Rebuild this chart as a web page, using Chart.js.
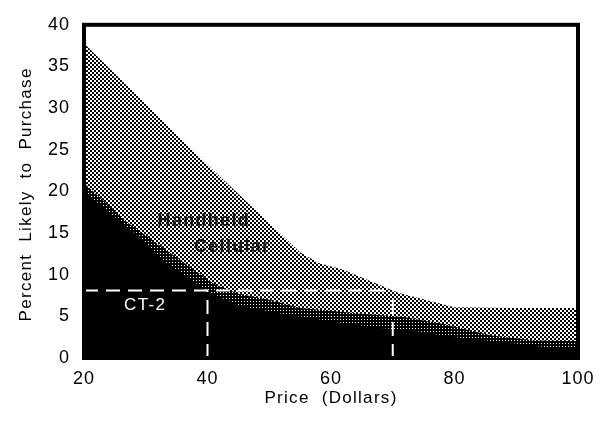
<!DOCTYPE html>
<html>
<head>
<meta charset="utf-8">
<script src="https://cdn.jsdelivr.net/npm/chart.js@4.4.1/dist/chart.umd.min.js"></script>
<style>
  html, body { margin: 0; padding: 0; background: #fff; }
  #wrap { width: 608px; height: 423px; }
</style>
</head>
<body>
<div id="wrap"><canvas id="purchase_chart"></canvas></div>
<script>
// data (price in dollars, percent likely to purchase)
const handheldPrices = [20, 40, 55, 58, 62, 71, 80, 90, 100];
const handheldTop    = [37.8, 23.2, 12.7, 11.4, 10.6, 7.8, 6.1, 6.0, 6.0];

const midPrices = [20, 27, 41, 45, 50, 55, 65, 72, 78, 86, 93, 100];
const midTop    = [21.0, 16.3, 8.9, 7.7, 7.0, 6.0, 5.3, 4.9, 4.1, 2.7, 2.1, 2.0];

const ct2Prices = [20, 28, 33, 40, 45, 52, 62, 68, 74, 80, 88, 95, 100];
const ct2Top    = [20.0, 15.1, 11.6, 8.0, 6.3, 5.3, 4.2, 3.6, 3.2, 2.5, 1.9, 1.3, 1.3];

// dashed guide: CT-2 level and the two prices it marks
const guideLevel = 8.1;
const guidePrices = [40, 70];

const xTickValues = [20, 40, 60, 80, 100];
const yTickValues = [0, 5, 10, 15, 20, 25, 30, 35, 40];

const xTitle = "Price  (Dollars)";
const yTitle = "Percent  Likely  to  Purchase";
const FONT = '"Liberation Sans", Arial, Helvetica, sans-serif';

const pts = (xs, ys) => xs.map((v, i) => ({ x: v, y: ys[i] }));

// halftone-like fills
function makePattern(size, isBlack) {
  const c = document.createElement("canvas");
  c.width = size; c.height = size;
  const g = c.getContext("2d");
  g.fillStyle = "#fff";
  g.fillRect(0, 0, size, size);
  g.fillStyle = "#000";
  for (let i = 0; i < size; i++) {
    for (let j = 0; j < size; j++) {
      if (isBlack(i, j)) g.fillRect(i, j, 1, 1);
    }
  }
  return g.createPattern(c, "repeat");
}
const checker = makePattern(4, (i, j) => ((i >> 1) + (j >> 1)) % 2 === 0);
const dense = makePattern(3, (i, j) => !(i === 1 && j === 1));

const areaDefaults = { borderWidth: 0, pointRadius: 0, tension: 0, fill: "origin" };
const guideDefaults = {
  borderColor: "#fff", borderWidth: 2, borderDash: [14, 8],
  pointRadius: 0, fill: false, tension: 0
};

const overlay = {
  id: "overlay",
  beforeDraw(chart) {
    chart.ctx.letterSpacing = "1px";
  },
  afterDatasetsDraw(chart) {
    const { ctx, chartArea: a, scales: { x, y } } = chart;
    ctx.save();
    ctx.textAlign = "center";
    ctx.textBaseline = "middle";
    ctx.letterSpacing = "1.3px";

    ctx.font = "bold 18px " + FONT;
    ctx.fillStyle = "rgba(15,15,15,0.92)";
    ctx.fillText("Handheld", x.getPixelForValue(39.4), y.getPixelForValue(16.5));
    ctx.fillText("Cellular", x.getPixelForValue(44), y.getPixelForValue(13.3));

    ctx.font = "17px " + FONT;
    ctx.fillStyle = "#fff";
    ctx.fillText("CT-2", x.getPixelForValue(29.9), y.getPixelForValue(6.3));

    ctx.lineWidth = 4;
    ctx.strokeStyle = "#000";
    ctx.strokeRect(a.left, a.top, a.right - a.left, a.bottom - a.top);

    ctx.fillStyle = "#000";
    ctx.fillText(xTitle, (a.left + a.right) / 2, 398);
    ctx.translate(26, (a.top + a.bottom) / 2 + 3);
    ctx.rotate(-Math.PI / 2);
    ctx.fillText(yTitle, 0, 0);
    ctx.restore();
  }
};

const ctx = document.getElementById("purchase_chart");
const chart = new Chart(ctx, {
  type: "line",
  data: {
    datasets: [
      { ...guideDefaults, data: [{ x: 20, y: guideLevel }, { x: guidePrices[1], y: guideLevel }] },
      { ...guideDefaults, data: [{ x: guidePrices[0], y: 0 }, { x: guidePrices[0], y: guideLevel }] },
      { ...guideDefaults, data: [{ x: guidePrices[1], y: 0 }, { x: guidePrices[1], y: guideLevel }] },
      { ...areaDefaults, label: "CT-2", data: pts(ct2Prices, ct2Top), backgroundColor: "#000" },
      { ...areaDefaults, label: "", data: pts(midPrices, midTop), backgroundColor: dense },
      { ...areaDefaults, label: "Handheld Cellular", data: pts(handheldPrices, handheldTop), backgroundColor: checker },
    ],
  },
  options: {
    responsive: true,
    maintainAspectRatio: false,
    animation: false,
    layout: { padding: { top: 22, right: 30, bottom: 0, left: 0 } },
    scales: {
      x: {
        type: "linear",
        min: 20,
        max: 100,
        afterBuildTicks: (s) => { s.ticks = xTickValues.map(v => ({ value: v })); },
        afterFit: (s) => { s.height = 65; },
        grid: { display: false, drawTicks: false },
        border: { display: false },
        ticks: { color: "#000", padding: 10, font: { size: 18, family: FONT } },
      },
      y: {
        min: 0,
        max: 40,
        afterBuildTicks: (s) => { s.ticks = yTickValues.map(v => ({ value: v })); },
        afterFit: (s) => { s.width = 84; },
        grid: { display: false, drawTicks: false },
        border: { display: false },
        ticks: { color: "#000", padding: 14, font: { size: 18, family: FONT } },
      },
    },
    plugins: {
      legend: { display: false },
      tooltip: { enabled: false },
    },
  },
  plugins: [overlay],
});
</script>
</body>
</html>
